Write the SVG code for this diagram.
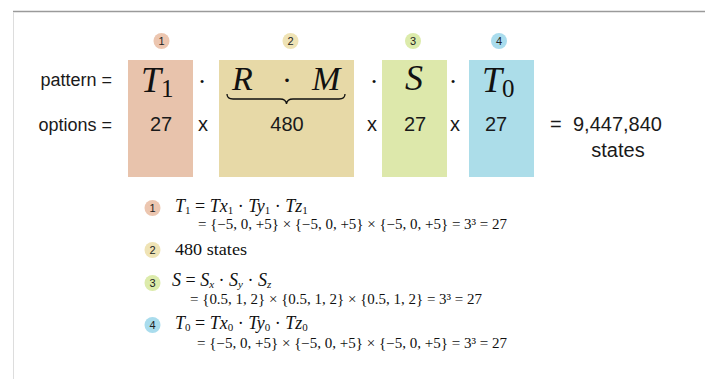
<svg xmlns="http://www.w3.org/2000/svg" width="705" height="379" viewBox="0 0 705 379">
<style>
.sans{font-family:"Liberation Sans",Arial,sans-serif;fill:#1a1a1a}
.lbl{font-size:18px;text-anchor:end}
.num{font-size:20px;text-anchor:middle}
.math{font-family:"Liberation Serif","Times New Roman",serif;fill:#111}
.it{font-style:italic}
.badge{font-family:"Liberation Sans",Arial,sans-serif;font-size:11px;text-anchor:middle;fill:#222}
.f1{fill:#e8c3ac}.f2{fill:#e7d9a7}.f3{fill:#dde8ab}.f4{fill:#acdde9}
.b1{fill:#ecc6b0}.b2{fill:#efe3b5}.b3{fill:#dcebab}.b4{fill:#a9dced}
</style>
<rect width="705" height="379" fill="#fff"/>
<line x1="13" y1="11.5" x2="705" y2="11.5" stroke="#9a9a9a" stroke-width="1.5"/>
<line x1="13.5" y1="12" x2="13.5" y2="379" stroke="#dddddd" stroke-width="1"/>

<text class="sans lbl" x="112" y="86">pattern =</text>
<text class="sans lbl" x="112" y="131">options =</text>

<g id="term1">
<circle class="b1" cx="161.5" cy="41" r="8"/>
<text class="badge" x="161.5" y="45">1</text>
<rect class="f1" x="128" y="60" width="65" height="117"/>
<text class="math" x="141" y="92" font-size="36"><tspan class="it">T</tspan><tspan font-size="25" dy="5">1</tspan></text>
<text class="sans num" x="161" y="131">27</text>
</g>

<g id="term2">
<circle class="b2" cx="290.5" cy="41" r="8"/>
<text class="badge" x="290.5" y="45">2</text>
<rect class="f2" x="219" y="60" width="135" height="117"/>
<text class="math it" x="232" y="90" font-size="34">R</text>
<text class="math" x="287" y="90" font-size="30" text-anchor="middle">·</text>
<text class="math it" x="312" y="90" font-size="34">M</text>
<path d="M227,94 Q227,99 233,99 L280,99 Q286,99 286.5,104 Q287,99 293,99 L339,99 Q345,99 345,94" fill="none" stroke="#111" stroke-width="1.3"/>
<text class="sans num" x="287" y="131">480</text>
</g>

<g id="term3">
<circle class="b3" cx="413" cy="41" r="8"/>
<text class="badge" x="413" y="45">3</text>
<rect class="f3" x="382" y="60" width="65" height="117"/>
<text class="math it" x="414" y="90" font-size="36" text-anchor="middle">S</text>
<text class="sans num" x="415" y="131">27</text>
</g>

<g id="term4">
<circle class="b4" cx="499" cy="41" r="8"/>
<text class="badge" x="499" y="45">4</text>
<rect class="f4" x="469" y="60" width="65" height="117"/>
<text class="math" x="482" y="92" font-size="36"><tspan class="it">T</tspan><tspan font-size="25" dy="5">0</tspan></text>
<text class="sans num" x="496" y="131">27</text>
</g>

<g id="operators">
<text class="math" x="202" y="90" font-size="26" text-anchor="middle">·</text>
<text class="math" x="374" y="90" font-size="26" text-anchor="middle">·</text>
<text class="math" x="453" y="90" font-size="26" text-anchor="middle">·</text>
<text class="sans num" x="203" y="131">x</text>
<text class="sans num" x="372" y="131">x</text>
<text class="sans num" x="455" y="131">x</text>
</g>

<g id="result">
<text class="sans" x="550" y="131" font-size="20">=</text>
<text class="sans" x="573" y="131" font-size="20">9,447,840</text>
<text class="sans num" x="618" y="157">states</text>
</g>

<g id="item1">
<circle class="b1" cx="152.5" cy="208" r="8"/>
<text class="badge" x="152.5" y="212">1</text>
<text class="math" x="175" y="212" font-size="18"><tspan class="it">T</tspan><tspan font-size="11" dy="2">1</tspan><tspan dy="-2"> = </tspan><tspan class="it">Tx</tspan><tspan font-size="11" dy="2">1</tspan><tspan dy="-2"> · </tspan><tspan class="it">Ty</tspan><tspan font-size="11" dy="2">1</tspan><tspan dy="-2"> · </tspan><tspan class="it">Tz</tspan><tspan font-size="11" dy="2">1</tspan></text>
<text class="math" x="198" y="229" font-size="14" textLength="309" lengthAdjust="spacingAndGlyphs">= {−5, 0, +5} × {−5, 0, +5} × {−5, 0, +5} = 3³ = 27</text>
</g>

<g id="item2">
<circle class="b2" cx="152.5" cy="250" r="8"/>
<text class="badge" x="152.5" y="254">2</text>
<text class="math" x="175" y="255" font-size="17" textLength="72" lengthAdjust="spacingAndGlyphs">480 states</text>
</g>

<g id="item3">
<circle class="b3" cx="152.5" cy="283" r="8"/>
<text class="badge" x="152.5" y="287">3</text>
<text class="math" x="172" y="286" font-size="18"><tspan class="it">S</tspan><tspan> = </tspan><tspan class="it">S</tspan><tspan class="it" font-size="11" dy="2">x</tspan><tspan dy="-2"> · </tspan><tspan class="it">S</tspan><tspan class="it" font-size="11" dy="2">y</tspan><tspan dy="-2"> · </tspan><tspan class="it">S</tspan><tspan class="it" font-size="11" dy="2">z</tspan></text>
<text class="math" x="190" y="304" font-size="14" textLength="292" lengthAdjust="spacingAndGlyphs">= {0.5, 1, 2} × {0.5, 1, 2} × {0.5, 1, 2} = 3³ = 27</text>
</g>

<g id="item4">
<circle class="b4" cx="152.5" cy="325" r="8"/>
<text class="badge" x="152.5" y="329">4</text>
<text class="math" x="175" y="329" font-size="18"><tspan class="it">T</tspan><tspan font-size="11" dy="2">0</tspan><tspan dy="-2"> = </tspan><tspan class="it">Tx</tspan><tspan font-size="11" dy="2">0</tspan><tspan dy="-2"> · </tspan><tspan class="it">Ty</tspan><tspan font-size="11" dy="2">0</tspan><tspan dy="-2"> · </tspan><tspan class="it">Tz</tspan><tspan font-size="11" dy="2">0</tspan></text>
<text class="math" x="197" y="348" font-size="14" textLength="310" lengthAdjust="spacingAndGlyphs">= {−5, 0, +5} × {−5, 0, +5} × {−5, 0, +5} = 3³ = 27</text>
</g>
</svg>
